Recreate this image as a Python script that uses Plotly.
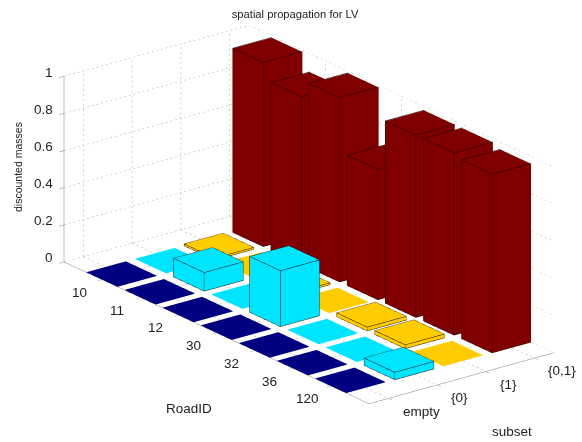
import plotly.graph_objects as go

TITLE = "spatial propagation for LV"
road_ids = ["10", "11", "12", "30", "32", "36", "120"]
subsets = ["empty", "{0}", "{1}", "{0,1}"]
z_ticks = [0, 0.2, 0.4, 0.6, 0.8, 1]
m_empty = [0, 0, 0, 0, 0, 0, 0]
m_0 = [0, 0.10, 0, 0.30, 0, 0, 0.04]
m_1 = [0.01, 0, 0.01, 0, 0.02, 0.02, 0]
m_01 = [0.99, 0.90, 0.99, 0.70, 0.98, 0.98, 0.96]
series = [m_empty, m_0, m_1, m_01]
colors = ["#000080", "#00E5FF", "#FFCC00", "#800000"]

W = 0.4
XLIM = [0.6, 4.4]
NR = len(road_ids)
YLIM = [0, NR + 1]
GRID = "#a8a8a8"
AXIS = "#7f7f7f"
FLAT = 0.003  # a flat tile sits just above the floor grid so that it hides it

def yy(row):  # row 1 is nearest the wall: road axis runs toward the viewer
    return NR + 1 - row

fig = go.Figure()

# dotted grid on walls and floor, each line broken into short solid pieces
gx, gy, gz = [], [], []
def dotted(a, b, n):
    for k in range(n):
        t0 = k / n
        t1 = (k + 0.4) / n
        gx.extend([a[0] + (b[0]-a[0])*t0, a[0] + (b[0]-a[0])*t1, None])
        gy.extend([a[1] + (b[1]-a[1])*t0, a[1] + (b[1]-a[1])*t1, None])
        gz.extend([a[2] + (b[2]-a[2])*t0, a[2] + (b[2]-a[2])*t1, None])
back_y = YLIM[1]
back_x = XLIM[1]
NX, NY, NZ = 40, 68, 37
for t in z_ticks:
    dotted((XLIM[0], back_y, t), (back_x, back_y, t), NX)
    dotted((back_x, back_y, t), (back_x, YLIM[0], t), NY)
for i in range(len(subsets)):
    dotted((i + 1, back_y, 0), (i + 1, back_y, 1), NZ)
    dotted((i + 1, back_y, 0), (i + 1, YLIM[0], 0), NY)
for i in range(NR):
    dotted((back_x, yy(i + 1), 0), (back_x, yy(i + 1), 1), NZ)
    dotted((XLIM[0], yy(i + 1), 0), (back_x, yy(i + 1), 0), NX)
fig.add_trace(go.Scatter3d(x=gx, y=gy, z=gz, mode="lines",
                           line=dict(color=GRID, width=1),
                           hoverinfo="skip", showlegend=False))

FACES = [(0,1,2),(0,2,3),(4,5,6),(4,6,7),(0,1,5),(0,5,4),(1,2,6),(1,6,5),(2,3,7),(2,7,6),(3,0,4),(3,4,7)]
EDGES = [(0,1),(1,2),(2,3),(3,0),(4,5),(5,6),(6,7),(7,4),(0,4),(1,5),(2,6),(3,7)]
ex, ey, ez = [], [], []
for c, vals in enumerate(series):
    X, Y, Z, I, J, K = [], [], [], [], [], []
    for r, v in enumerate(vals):
        h = max(v, FLAT)
        cx, cy = c + 1, yy(r + 1)
        n = len(X)
        vs = [(cx-W, cy-W, 0), (cx+W, cy-W, 0), (cx+W, cy+W, 0), (cx-W, cy+W, 0),
              (cx-W, cy-W, h), (cx+W, cy-W, h), (cx+W, cy+W, h), (cx-W, cy+W, h)]
        for p in vs:
            X.append(p[0]); Y.append(p[1]); Z.append(p[2])
        for f in FACES:
            I.append(n+f[0]); J.append(n+f[1]); K.append(n+f[2])
        if v > 0:
            for a, b in EDGES:
                # pushed a hair outward so that the outline wins the depth test
                pa = [cx + (vs[a][0]-cx)*1.004, cy + (vs[a][1]-cy)*1.004, vs[a][2]*1.002]
                pb = [cx + (vs[b][0]-cx)*1.004, cy + (vs[b][1]-cy)*1.004, vs[b][2]*1.002]
                ex.extend([pa[0], pb[0], None]); ey.extend([pa[1], pb[1], None]); ez.extend([pa[2], pb[2], None])
    fig.add_trace(go.Mesh3d(x=X, y=Y, z=Z, i=I, j=J, k=K, color=colors[c], flatshading=True,
                            lighting=dict(ambient=1, diffuse=0, specular=0, roughness=1, fresnel=0),
                            hoverinfo="skip", showlegend=False))
fig.add_trace(go.Scatter3d(x=ex, y=ey, z=ez, mode="lines", line=dict(color="#1a0505", width=1),
                           hoverinfo="skip", showlegend=False))

font = dict(family="Liberation Sans", size=13.5, color="#222222")
axis = dict(showbackground=False, showgrid=False, zeroline=False, showspikes=False,
            showline=True, linecolor=AXIS, linewidth=1, ticks="outside", ticklen=6,
            tickcolor=AXIS, showticklabels=False, title=dict(text=""))
D = 1.6
S = 2.33
scene_notes = []
for t in z_ticks:
    scene_notes.append(dict(x=XLIM[0], y=YLIM[1], z=t, text=f"{t:g}", showarrow=False, font=font,
                            xanchor="right", xshift=-9, yshift=4))
for i, label in enumerate(road_ids):
    scene_notes.append(dict(x=XLIM[0], y=yy(i + 1), z=0, text=label, showarrow=False, font=font,
                            xanchor="center", xshift=-23, yshift=-13))
for i, label in enumerate(subsets):
    scene_notes.append(dict(x=i + 1, y=YLIM[0], z=0, text=label, showarrow=False, font=font,
                            xanchor="left", xshift=12, yshift=-13))
fig.update_layout(
    width=582, height=442, margin=dict(l=0, r=0, t=0, b=0), paper_bgcolor="white",
    showlegend=False,
    title=dict(text=TITLE, x=0.507, xanchor="center", y=0.968, yanchor="middle",
               font=dict(family="Liberation Sans", size=11.2, color="#222222")),
    scene=dict(
        domain=dict(x=[0.062, 1], y=[0.03, 1]),
        xaxis=dict(axis, range=XLIM, tickmode="array", tickvals=[1,2,3,4]),
        yaxis=dict(axis, range=YLIM, tickmode="array", tickvals=[yy(i+1) for i in range(NR)]),
        zaxis=dict(axis, range=[0, 1], tickmode="array", tickvals=z_ticks),
        aspectmode="manual", aspectratio=dict(x=0.467*S, y=1*S, z=0.398*S),
        camera=dict(projection=dict(type="orthographic"),
                    eye=dict(x=-0.57*D, y=-0.74*D, z=0.358*D),
                    up=dict(x=0, y=0, z=1), center=dict(x=0, y=0, z=0)),
        annotations=scene_notes,
    ),
    annotations=[
        dict(text="discounted masses", x=18/582, y=1-167/442, xref="paper", yref="paper", showarrow=False, textangle=-90,
             xanchor="center", yanchor="middle",
             font=dict(family="Liberation Sans", size=10.5, color="#222222")),
        dict(text="RoadID", x=189/582, y=1-408/442, showarrow=False, font=font, xref="paper", yref="paper",
             xanchor="center", yanchor="middle"),
        dict(text="subset", x=512/582, y=1-431/442, showarrow=False, font=font, xref="paper", yref="paper",
             xanchor="center", yanchor="middle"),
    ],
)
fig.write_html("out.html", post_script="document.body.style.margin='0';",
               config={"displayModeBar": False})
